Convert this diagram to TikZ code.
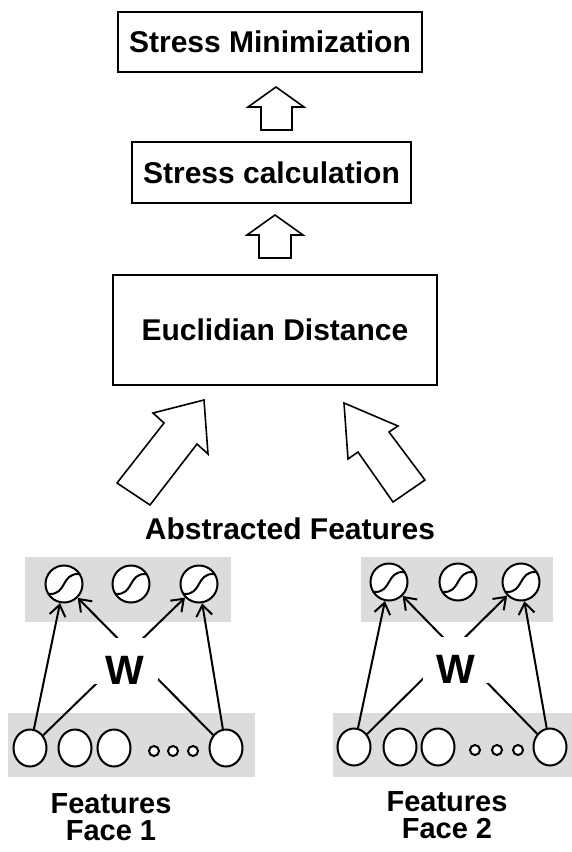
\documentclass[tikz,border=0pt]{standalone}
\usepackage{fontspec}
\setmainfont{Liberation Sans}
\usetikzlibrary{shapes.geometric,arrows.meta}
\definecolor{panel}{RGB}{220,220,220}
\begin{document}
\begin{tikzpicture}[x=1pt,y=-1pt,
  box/.style={draw,line width=2pt,fill=white,inner sep=0pt,font=\fontsize{30}{36}\selectfont\bfseries,text height=21.5pt,text depth=0pt},
  sig/.style={circle,draw,line width=2pt,fill=white,minimum size=37pt,inner sep=0pt},
  inp/.style={ellipse,draw,line width=2pt,fill=white,minimum width=33pt,minimum height=37pt,inner sep=0pt},
  dotn/.style={circle,draw,line width=2pt,fill=white,minimum size=10pt,inner sep=0pt},
  wt/.style={fill=white,inner xsep=0pt,inner ysep=0pt,minimum width=66pt,text height=46pt,text depth=0pt,font=\fontsize{41}{48}\selectfont\bfseries,anchor=base},
  lbl/.style={font=\fontsize{29}{34}\selectfont\bfseries,anchor=base},
  conn/.style={line width=2pt,-{Straight Barb[length=11pt,width=16pt]}},
  sigcurve/.style={line width=2pt},
  blockarrow/.style={draw,line width=1.6pt,fill=white,line join=miter}
]
\useasboundingbox (0,0) rectangle (572,852);
\fill[white] (0,0) rectangle (572,852);

% boxes
\node[box,minimum width=304pt,minimum height=60pt] (sm) at (270,41.5) {Stress Minimization};
\node[box,minimum width=279pt,minimum height=61pt] (sc) at (271.5,172.5) {Stress calculation};
\node[box,minimum width=324pt,minimum height=110pt] (ed) at (275,330) {Euclidian Distance};

% block arrows
\draw[blockarrow] (261,130) -- (261,107) -- (248,107) -- (276,87) -- (304,107) -- (292,107) -- (292,130) -- cycle;
\draw[blockarrow] (259,258) -- (259,235) -- (247,235) -- (275,215) -- (303,235) -- (291,235) -- (291,258) -- cycle;
\draw[blockarrow] (117,483) -- (164,423) -- (153,413) -- (204,400) -- (208,454) -- (197,444) -- (150,505) -- cycle;
\draw[blockarrow] (344,403) -- (398,426) -- (389,432) -- (425,480) -- (393,502) -- (358,452) -- (348,459) -- cycle;

\node[lbl,font=\fontsize{30}{36}\selectfont\bfseries] (af) at (290,539) {Abstracted Features};

% panels
\fill[panel] (25,557) rectangle (231,622);
\fill[panel] (8,713) rectangle (255,777);
\fill[panel] (361,557) rectangle (553,622);
\fill[panel] (333,713) rectangle (572,777);

% left network
\node[sig] (ls1) at (64,584) {};
\node[sig] (ls2) at (131,584) {};
\node[sig] (ls3) at (199,584) {};
\node[inp] (li1) at (30,748) {};
\node[inp] (li2) at (75,748) {};
\node[inp] (li3) at (114,748) {};
\node[inp] (li4) at (226,748) {};
\node[dotn] (ld1) at (154,751) {};
\node[dotn] (ld2) at (173,751) {};
\node[dotn] (ld3) at (193,751) {};

% right network
\node[sig] (rs1) at (389,582) {};
\node[sig] (rs2) at (458,582) {};
\node[sig] (rs3) at (521,582) {};
\node[inp] (ri1) at (354,747) {};
\node[inp] (ri2) at (400,747) {};
\node[inp] (ri3) at (438,747) {};
\node[inp] (ri4) at (550,747) {};
\node[dotn] (rd1) at (475,750) {};
\node[dotn] (rd2) at (497,750) {};
\node[dotn] (rd3) at (518,750) {};

\foreach \s in {ls1,ls2,ls3,rs1,rs2,rs3}
  \draw[sigcurve,shift={(\s)}] (-15,10) .. controls (3,11) and (-3,-11) .. (15,-10);

% connections
\draw[conn] (li1) -- (ls1);
\draw[conn] (li1) -- (ls3);
\draw[conn] (li4) -- (ls1);
\draw[conn] (li4) -- (ls3);
\draw[conn] (ri1) -- (rs1);
\draw[conn] (ri1) -- (rs3);
\draw[conn] (ri4) -- (rs1);
\draw[conn] (ri4) -- (rs3);

% weights
\node[wt] (lw) at (125,684) {W};
\node[wt] (rw) at (456,683) {W};

% labels
\node[lbl] (lf1) at (111,813) {Features};
\node[lbl] (lf2) at (111,840) {Face 1};
\node[lbl] (rf1) at (447,811) {Features};
\node[lbl] (rf2) at (447,838) {Face 2};
\end{tikzpicture}
\end{document}
